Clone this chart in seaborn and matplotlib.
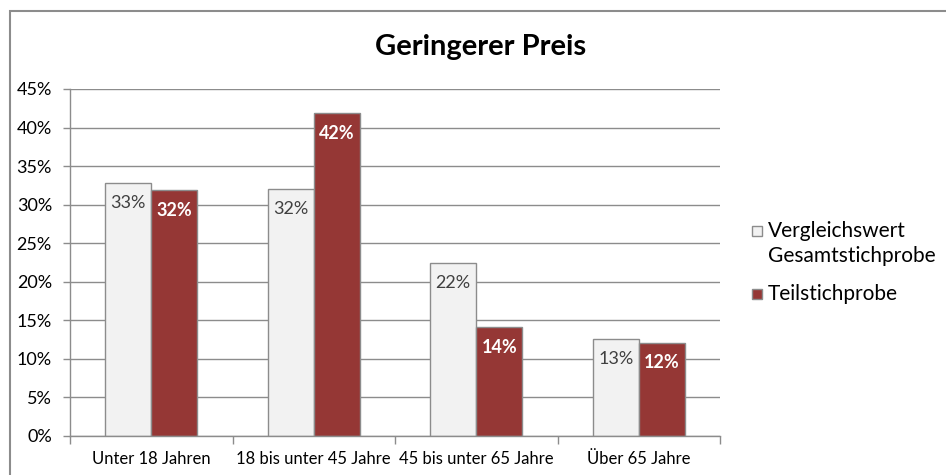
import matplotlib
matplotlib.use("Agg")
import matplotlib.pyplot as plt
from matplotlib.patches import Rectangle
from matplotlib.ticker import FixedLocator, PercentFormatter
import pandas as pd
import seaborn as sns

# Data
title = "Geringerer Preis"
categories = ["Unter 18 Jahren", "18 bis unter 45 Jahre", "45 bis unter 65 Jahre", "Über 65 Jahre"]
series_names = ["Vergleichswert Gesamtstichprobe", "Teilstichprobe"]
legend_labels = ["Vergleichswert\nGesamtstichprobe", "Teilstichprobe"]
vergleichswert = [0.328, 0.320, 0.224, 0.126]
teilstichprobe = [0.319, 0.419, 0.141, 0.121]
y_ticks = [0.00, 0.05, 0.10, 0.15, 0.20, 0.25, 0.30, 0.35, 0.40, 0.45]

df = pd.DataFrame({
    "Altersgruppe": categories * 2,
    "Serie": [series_names[0]] * len(categories) + [series_names[1]] * len(categories),
    "Anteil": vergleichswert + teilstichprobe,
})

sns.set_theme(style="white")
plt.rcParams["font.family"] = ["Lato", "DejaVu Sans"]

W, H = 946, 475
GRID = "#8C8C8C"
fill_colors = ["#F2F2F2", "#953735"]

fig = plt.figure(figsize=(W / 100, H / 100), dpi=100)
ax = fig.add_axes([70 / W, 1 - 436 / H, 650 / W, 347 / H])

sns.barplot(
    data=df, x="Altersgruppe", y="Anteil", hue="Serie",
    palette=dict(zip(series_names, fill_colors)),
    width=0.566, saturation=1, edgecolor=GRID, linewidth=1.0,
    legend=False, ax=ax,
)

ax.set_xlim(-0.5, len(categories) - 0.5)
ax.set_ylim(0, 0.45)
ax.set_xlabel("")
ax.set_ylabel("")

# Axes styling
ax.yaxis.set_major_locator(FixedLocator(y_ticks))
ax.yaxis.set_major_formatter(PercentFormatter(1.0, decimals=0))
ax.yaxis.grid(True, color=GRID, linewidth=1.0)
ax.set_axisbelow(True)
for side in ["top", "right"]:
    ax.spines[side].set_visible(False)
for side in ["left", "bottom"]:
    ax.spines[side].set_color(GRID)
    ax.spines[side].set_linewidth(1.0)

ax.tick_params(axis="y", left=True, length=5, width=1, color=GRID, pad=8,
               labelsize=13, labelcolor="#000000")
ax.set_xticks(range(len(categories)))
ax.set_xticklabels(categories)
ax.set_xticks([i - 0.5 for i in range(len(categories) + 1)], minor=True)
ax.tick_params(axis="x", which="major", bottom=False, length=0, pad=11,
               labelsize=12, labelcolor="#000000")
ax.tick_params(axis="x", which="minor", bottom=True, length=6, width=1, color=GRID)

# Value labels inside the bar tops
label_styles = [dict(color="#404040", fontweight="normal"),
                dict(color="white", fontweight="bold")]
for container, values, style in zip(ax.containers, [vergleichswert, teilstichprobe], label_styles):
    for bar, v in zip(container, values):
        ax.annotate(f"{round(v * 100):.0f}%",
                    (bar.get_x() + bar.get_width() / 2, v),
                    xytext=(0, -14.5), textcoords="offset points",
                    ha="center", va="center", fontsize=13, **style)

# Title
fig.text(481 / W, 1 - 47 / H, title, ha="center", va="center",
         fontsize=21, fontweight="bold", color="#000000")

# Legend
legend_rows = [(231, 0), (294, 1)]
for (yc, idx) in legend_rows:
    fig.add_artist(Rectangle((752 / W, 1 - (yc + 5) / H), 10 / W, 10 / H,
                             transform=fig.transFigure, facecolor=fill_colors[idx],
                             edgecolor=GRID, linewidth=1.0))
fig.text(768 / W, 1 - 231 / H, legend_labels[0].split("\n")[0],
         ha="left", va="center", fontsize=15, color="#000000")
fig.text(768 / W, 1 - 256 / H, legend_labels[0].split("\n")[1],
         ha="left", va="center", fontsize=15, color="#000000")
fig.text(768 / W, 1 - 294 / H, legend_labels[1],
         ha="left", va="center", fontsize=15, color="#000000")

# Chart frame
fig.add_artist(Rectangle((9.5 / W, -0.1), 1.0, 1.1 - 11.5 / H,
                         transform=fig.transFigure, fill=False,
                         edgecolor=GRID, linewidth=1.5))

fig.savefig("out.png", dpi=100)
